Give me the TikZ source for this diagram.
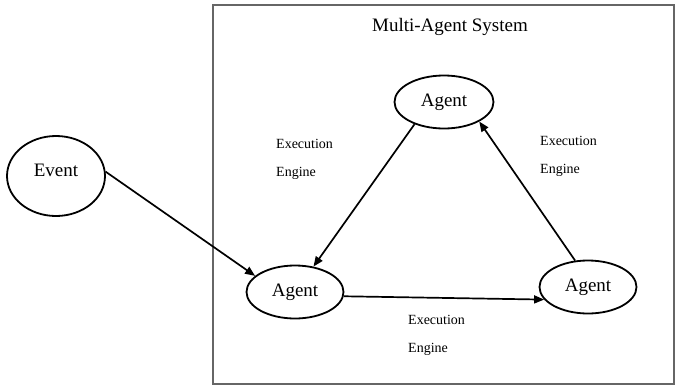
\documentclass[tikz,border=0pt]{standalone}
\usepackage{fontspec}
\setmainfont{Liberation Serif}
\usetikzlibrary{shapes.geometric,arrows.meta}
\tikzset{
  agent/.style={draw=black, line width=1.8pt, ellipse, inner sep=0pt,
                minimum width=97pt, minimum height=53pt,
                font=\fontsize{19}{22}\selectfont},
  flow/.style={draw=black, line width=1.7pt,
               -{Triangle[length=10pt,width=8pt]}},
  engine/.style={anchor=west, align=left, inner sep=0pt,
                 font=\fontsize{14}{28}\selectfont},
  frame/.style={draw=black!60, line width=1.6pt}
}
\begin{document}
\begin{tikzpicture}[x=1pt,y=-1pt]
  \useasboundingbox[fill=white] (0,0) rectangle (677,386);

  % system boundary
  \draw[frame] (213,5) rectangle (674,384);
  \node[font=\fontsize{19}{22}\selectfont] (title) at (450,27) {Multi-Agent System};

  % nodes
  \node[agent, minimum width=98pt, minimum height=80pt] (ev) at (56,176) {\raisebox{12pt}{Event}};
  \node[agent, minimum width=99pt] (ta) at (444,102) {Agent};
  \node[agent] (la) at (295,292) {Agent};
  \node[agent] (ra) at (588,287) {Agent};

  % connectors
  \draw[flow] (ev.5) -- (la.158);
  \draw[flow] (ta.-143) -- (la.54);
  \draw[flow] (la.-5) -- (ra.196);
  \draw[flow] (ra.116) -- (ta.-29);

  % edge labels
  \node[engine] (e1) at (276,159) {Execution\\Engine};
  \node[engine] (e2) at (540,156) {Execution\\Engine};
  \node[engine] (e3) at (408,335) {Execution\\Engine};
\end{tikzpicture}
\end{document}
